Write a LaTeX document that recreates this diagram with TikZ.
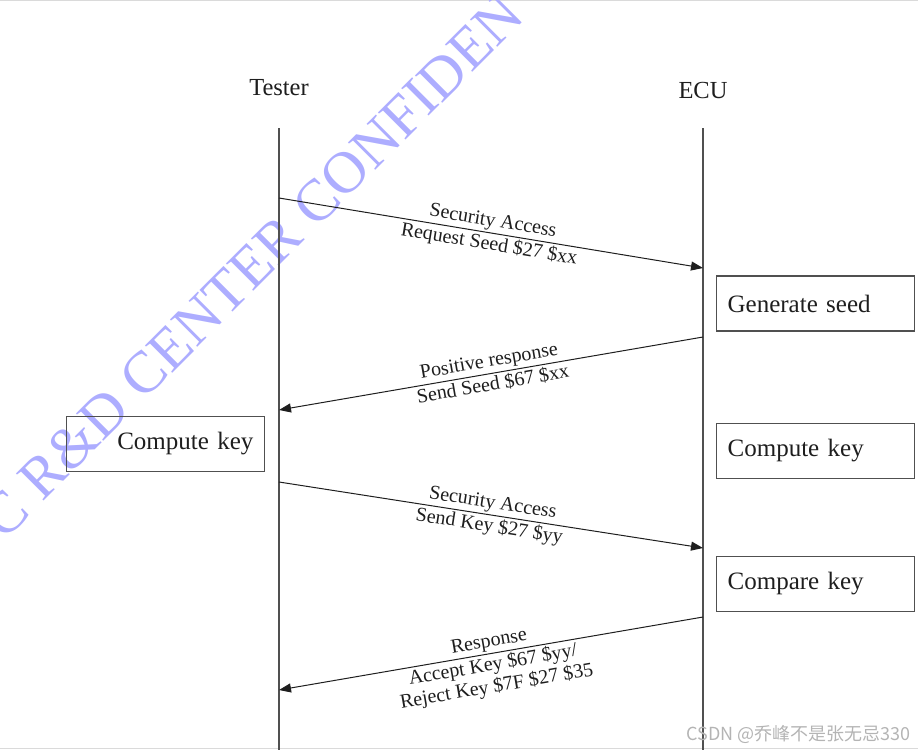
\documentclass[tikz,border=0pt]{standalone}
\usepackage{fontspec}
\setmainfont{Liberation Serif}
\newfontfamily\cjksans{Noto Sans CJK SC}
\usetikzlibrary{arrows.meta,positioning,calc}
\definecolor{Ink}{HTML}{1E1E1E}
\definecolor{Rule}{HTML}{505050}
\definecolor{Stamp}{HTML}{ADADFF}
\definecolor{Faint}{HTML}{B4B4B4}
\definecolor{Edge}{HTML}{DADADA}

\begin{document}
\begin{tikzpicture}[x=1pt,y=-1pt,
    life/.style={Rule,line width=1.1pt},
    msg/.style={-{Triangle[length=12pt,width=9pt]},Ink,line width=1pt},
    lbl/.style={sloped,midway,font=\fontsize{20}{22}\selectfont,text=Ink,inner sep=1pt,align=center},
    actor/.style={font=\fontsize{24.5}{28}\selectfont,text=Ink},
    box/.style={draw=Rule,line width=1.3pt,minimum height=55pt,inner xsep=11pt,inner ysep=0pt,
      text width=176pt,font=\fontsize{25}{28}\selectfont,text=Ink}]
  \useasboundingbox (0,0) rectangle (918,750);
  \draw[Edge,line width=0.8pt] (0,0.5) -- (918,0.5);
  \draw[Edge,line width=0.8pt] (0,748.5) -- (918,748.5);

  % watermark
  \node[rotate=45,text=Stamp,font=\fontsize{59}{60}\selectfont] (stamp) at (252,266) {C R\&D CENTER CONFIDEN};

  % lifelines
  \node[actor] (tester) at (279,88) {Tester};
  \node[actor] (ecu) at (703,91) {ECU};
  \coordinate (ttop) at (279,128);
  \coordinate (tbot) at (279,750);
  \coordinate (etop) at (703,128);
  \coordinate (ebot) at (703,750);
  \draw[life] (ttop) -- (tbot);
  \draw[life] (etop) -- (ebot);

  % message ends
  \coordinate (t1) at (279,198);
  \coordinate (e1) at (703,268);
  \coordinate (e2) at (703,337);
  \coordinate (t2) at (279,410);
  \coordinate (t3) at (279,482);
  \coordinate (e3) at (703,548);
  \coordinate (e4) at (703,617);
  \coordinate (t4) at (279,690);

  \draw[msg] (t1) -- (e1)
    node[lbl,above=1pt] {Security Access}
    node[lbl,below=1pt] {Request Seed \$27 \$xx};
  \draw[msg] (e2) -- (t2)
    node[lbl,above=1pt] {Positive response}
    node[lbl,below=1pt] {Send Seed \$67 \$xx};
  \draw[msg] (t3) -- (e3)
    node[lbl,above=1pt] {Security Access}
    node[lbl,below=1pt] {Send Key \$27 \$yy};
  \draw[msg] (e4) -- (t4)
    node[lbl,above=1pt] {Response}
    node[lbl,below=1pt] {Accept Key \$67 \$yy/\\Reject Key \$7F \$27 \$35};

  % actions
  \node[box,align=left,anchor=west] (genseed) at (716,303.5) {Generate seed};
  \node[box,align=right,anchor=east] (tkey) at (265,444) {Compute key};
  \node[box,align=left,anchor=west] (ekey) at (716,451) {Compute key};
  \node[box,align=left,anchor=west] (cmpkey) at (716,584) {Compare key};

  \node[anchor=east,text=Faint,font=\cjksans\fontsize{18}{20}\selectfont] (csdn) at (914,734) {CSDN @乔峰不是张无忌330};
\end{tikzpicture}
\end{document}
